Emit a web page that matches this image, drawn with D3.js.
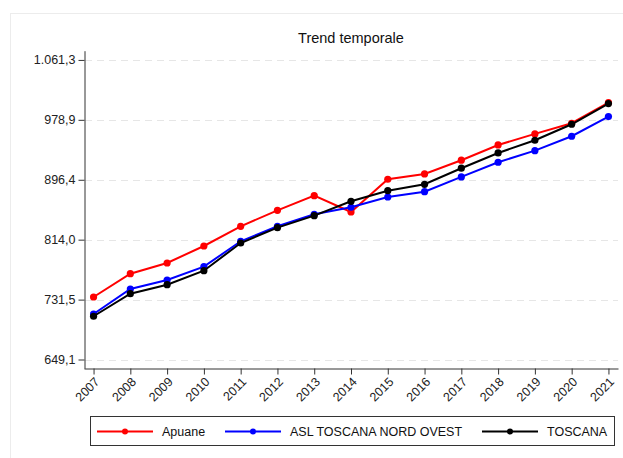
<!DOCTYPE html>
<html>
<head>
<meta charset="utf-8">
<script src="https://cdn.jsdelivr.net/npm/d3@7"></script>
<style>
  body { margin: 0; background: #fff; }
  svg { display: block; font-family: "Liberation Sans", Arial, sans-serif; }
</style>
</head>
<body>
<svg></svg>
<script>
'use strict'

const width = 623
const height = 458

// data
const years = [2007, 2008, 2009, 2010, 2011, 2012, 2013, 2014, 2015, 2016, 2017, 2018, 2019, 2020, 2021]
const apuane = [735.1, 767.2, 781.9, 805.3, 832.4, 854.4, 874.5, 852.1, 897.1, 904.4, 923.3, 944.3, 959.5, 974.2, 1002.5]
const aslNordOvest = [711.7, 746.1, 758.5, 776.8, 811.8, 832.4, 848.9, 858.6, 872.7, 880.0, 900.3, 920.5, 936.5, 956.3, 983.3]
const toscana = [708.6, 739.7, 752.0, 771.3, 809.4, 830.5, 847.0, 866.8, 881.4, 890.2, 912.3, 933.3, 950.8, 972.8, 1001.2]
const yTicks = [649.1, 731.5, 814.0, 896.4, 978.9, 1061.3]

const seriesNames = ['Apuane', 'ASL TOSCANA NORD OVEST', 'TOSCANA']
const seriesValues = [apuane, aslNordOvest, toscana]
const colors = ['#ff0000', '#0000ff', '#000000']

const series = seriesNames.map((name, i) => ({
    name: name,
    color: colors[i],
    values: years.map((y, j) => ({ year: y, value: seriesValues[i][j] }))
}))

const it = d3.formatLocale({ decimal: ',', thousands: '.', grouping: [3], currency: ['€', ''] })
const fmt = it.format(',.1f')
const fontSize = 12.5

const svg = d3.select('svg').attr('width', width).attr('height', height)

// graph region border
svg.append('rect')
    .attr('x', 10.5).attr('y', 13.5)
    .attr('width', 700).attr('height', 500)
    .attr('fill', '#fff')
    .attr('stroke', '#ececec')

const x = d3.scaleLinear().domain([2006.74, 2021.26]).range([84, 618])
const y = d3.scaleLinear().domain([637, 1074]).range([368.3, 50.7])

// grid
svg.append('g')
    .selectAll('line')
    .data(yTicks)
    .enter()
    .append('line')
    .attr('x1', 85).attr('x2', 618)
    .attr('y1', d => Math.round(y(d)) + 0.5)
    .attr('y2', d => Math.round(y(d)) + 0.5)
    .attr('stroke', '#e6e6e6')
    .attr('stroke-dasharray', '7,5')

// axes
const yAxis = svg.append('g')
    .attr('transform', 'translate(84.5,0)')
    .call(d3.axisLeft(y).tickValues(yTicks).tickFormat(fmt).tickSize(6).tickPadding(3).tickSizeOuter(0))
yAxis.selectAll('text').attr('font-size', fontSize).attr('fill', '#222').attr('font-family', '"Liberation Sans", Arial, sans-serif')
yAxis.selectAll('line, path').attr('stroke', '#333')

const xAxis = svg.append('g')
    .attr('transform', 'translate(0,368.5)')
    .call(d3.axisBottom(x).tickValues(years).tickFormat(d3.format('d')).tickSize(6).tickSizeOuter(0))
xAxis.selectAll('line, path').attr('stroke', '#333')
xAxis.selectAll('text')
    .attr('font-size', fontSize).attr('fill', '#222').attr('font-family', '"Liberation Sans", Arial, sans-serif')
    .attr('text-anchor', 'end')
    .attr('dy', '0.35em')
    .attr('x', 0).attr('y', 0)
    .attr('transform', 'translate(3,11) rotate(-45)')

// title
svg.append('text')
    .attr('x', 351).attr('y', 43)
    .attr('text-anchor', 'middle')
    .attr('font-size', 14.5)
    .attr('fill', '#111')
    .text('Trend temporale')

// lines
const line = d3.line().x(d => x(d.year)).y(d => y(d.value))

const lines = svg.append('g').selectAll('g')
    .data(series)
    .enter()
    .append('g')

lines.append('path')
    .attr('d', d => line(d.values))
    .attr('fill', 'none')
    .attr('stroke', d => d.color)
    .attr('stroke-width', 2)

lines.selectAll('circle')
    .data(d => d.values.map(v => ({ year: v.year, value: v.value, color: d.color })))
    .enter()
    .append('circle')
    .attr('cx', d => x(d.year))
    .attr('cy', d => y(d.value))
    .attr('r', 3.6)
    .attr('fill', d => d.color)

// legend
const legend = svg.append('g')
legend.append('rect')
    .attr('x', 90.5).attr('y', 416.5)
    .attr('width', 524).attr('height', 29)
    .attr('fill', '#fff')
    .attr('stroke', '#333')

const legendX = [97, 225, 482]
const items = legend.selectAll('g')
    .data(series)
    .enter()
    .append('g')
    .attr('transform', (d, i) => 'translate(' + legendX[i] + ',431.5)')

items.append('line')
    .attr('x1', 0).attr('x2', 56)
    .attr('stroke', d => d.color)
    .attr('stroke-width', 2)

items.append('circle')
    .attr('cx', 28).attr('r', 3)
    .attr('fill', d => d.color)

items.append('text')
    .attr('x', 65)
    .attr('dy', '0.35em')
    .attr('font-size', fontSize)
    .attr('fill', '#111')
    .text(d => d.name)
</script>
</body>
</html>
